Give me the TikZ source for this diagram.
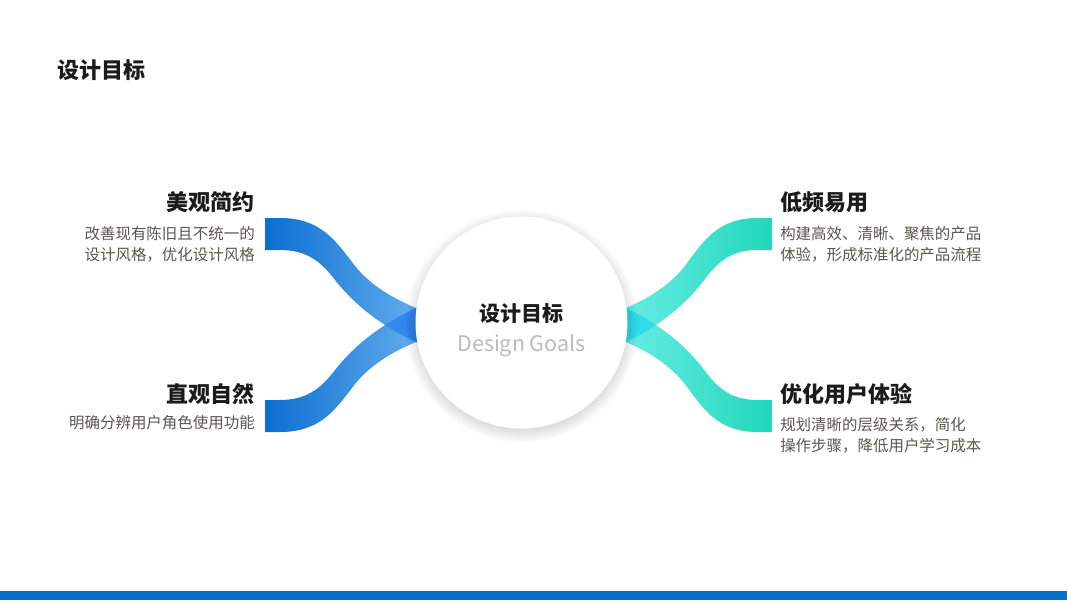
\documentclass[tikz,border=0pt]{standalone}
\usepackage{fontspec}
\setmainfont{Noto Sans CJK SC}
\definecolor{lbDark}{HTML}{0B6ED0}
\definecolor{lbLight}{HTML}{74BAF5}
\definecolor{lbOver}{HTML}{3388EC}
\definecolor{rtDark}{HTML}{22D8B9}
\definecolor{rtLight}{HTML}{74F0EF}
\definecolor{rtOver}{HTML}{30DCE8}
\definecolor{barblue}{HTML}{0870CC}
\definecolor{desccol}{HTML}{5B574D}
\definecolor{ttlcol}{HTML}{1B1B1B}
\definecolor{goalcol}{HTML}{BBBBBB}
\tikzset{
  ttl/.style={inner sep=0pt, text=ttlcol, font=\fontsize{16.5pt}{20pt}\selectfont\bfseries},
  dsc/.style={inner sep=0pt, text=desccol, font=\fontsize{11.6pt}{14pt}\selectfont},
}
\def\ribpath{(265,218) -- (280,218) .. controls (320,218) and (335,240) .. (352,262) .. controls (365,280) and (385,295) .. (416,308) -- (450,325) -- (450,359) -- (416,342) .. controls (380,325) and (355,305) .. (335,280) .. controls (320,260) and (305,250) .. (280,250) -- (265,250) -- cycle}
\begin{document}
\begin{tikzpicture}[x=0.75pt,y=-0.75pt]
\useasboundingbox (0,0) rectangle (1067,600);
\fill[white] (0,0) rectangle (1067,600);
% bottom bar
\fill[barblue] (0,591) rectangle (1067,600);
% title
\node[ttl, anchor=base west] (title) at (57,78) {设计目标};
% left ribbons
\shade[left color=lbDark, right color=lbLight] \ribpath;
\shade[left color=lbDark, right color=lbLight, shift={(0,650)}, yscale=-1] \ribpath;
\begin{scope}
  \clip \ribpath;
  \fill[lbOver, shift={(0,650)}, yscale=-1] \ribpath;
\end{scope}
% right ribbons
\begin{scope}[shift={(1028.2,0)}, xscale=-0.967]
\shade[left color=rtLight, right color=rtDark] \ribpath;
\shade[left color=rtLight, right color=rtDark, shift={(0,650)}, yscale=-1] \ribpath;
\begin{scope}
  \clip \ribpath;
  \fill[rtOver, shift={(0,650)}, yscale=-1] \ribpath;
\end{scope}
\end{scope}
% circle shadow
\foreach \i in {1,...,16}{
  \fill[black, opacity=0.008] (521.5,326) circle ({104+\i*0.8});
}
\node[circle, fill=white, inner sep=0pt, minimum size=159pt] (core) at (521.5,322.5) {};
\node[ttl, font=\fontsize{15.75pt}{18pt}\selectfont\bfseries, anchor=base] (coret) at (521.5,321) {设计目标};
\node[inner sep=0pt, text=goalcol, font=\fontsize{16.1pt}{18pt}\selectfont, anchor=base] (coree) at (521.5,351.5) {Design Goals};
% left texts
\node[ttl, anchor=base east] (t1) at (255,210) {美观简约};
\node[dsc, anchor=base east] (d1a) at (255,239.4) {改善现有陈旧且不统一的};
\node[dsc, anchor=base east] (d1b) at (255,260.4) {设计风格，优化设计风格};
\node[ttl, anchor=base east] (t2) at (255,402) {直观自然};
\node[dsc, anchor=base east] (d2a) at (255,428.5) {明确分辨用户角色使用功能};
% right texts
\node[ttl, anchor=base west] (t3) at (780,210) {低频易用};
\node[dsc, anchor=base west] (d3a) at (780,239.4) {构建高效、清晰、聚焦的产品};
\node[dsc, anchor=base west] (d3b) at (780,260.4) {体验，形成标准化的产品流程};
\node[ttl, anchor=base west] (t4) at (780,402) {优化用户体验};
\node[dsc, anchor=base west] (d4a) at (780,430) {规划清晰的层级关系，简化};
\node[dsc, anchor=base west] (d4b) at (780,451) {操作步骤，降低用户学习成本};
\end{tikzpicture}
\end{document}
